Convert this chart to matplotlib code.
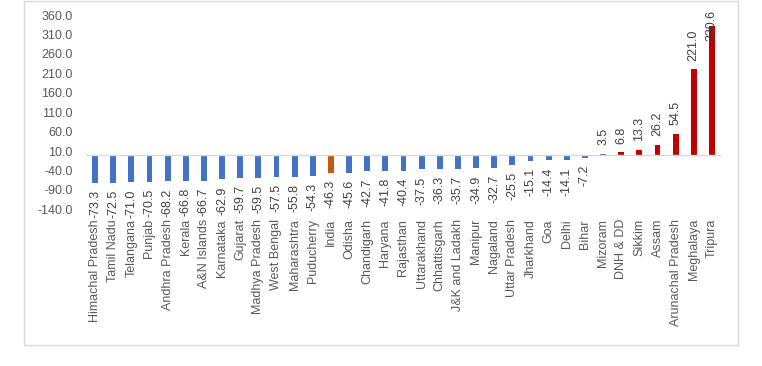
#!/usr/bin/env python3
# -*- coding: utf-8 -*-
"""Percent change by state/UT - Excel-style column chart with value labels."""
import numpy as np
import matplotlib
matplotlib.use("Agg")
import matplotlib.pyplot as plt
from matplotlib.patches import Rectangle

states = [
    "Himachal Pradesh", "Tamil Nadu", "Telangana", "Punjab", "Andhra Pradesh",
    "Kerala", "A&N Islands", "Karnataka", "Gujarat", "Madhya Pradesh",
    "West Bengal", "Maharashtra", "Puducherry", "India", "Odisha",
    "Chandigarh", "Haryana", "Rajasthan", "Uttarakhand", "Chhattisgarh",
    "J&K and Ladakh", "Manipur", "Nagaland", "Uttar Pradesh", "Jharkhand",
    "Goa", "Delhi", "Bihar", "Mizoram", "DNH & DD",
    "Sikkim", "Assam", "Arunachal Pradesh", "Meghalaya", "Tripura",
]
change = [
    -73.3, -72.5, -71.0, -70.5, -68.2,
    -66.8, -66.7, -62.9, -59.7, -59.5,
    -57.5, -55.8, -54.3, -46.3, -45.6,
    -42.7, -41.8, -40.4, -37.5, -36.3,
    -35.7, -34.9, -32.7, -25.5, -15.1,
    -14.4, -14.1, -7.2, 3.5, 6.8,
    13.3, 26.2, 54.5, 221.0, 330.6,
]
national = "India"
red_group = ["DNH & DD", "Sikkim", "Assam", "Arunachal Pradesh", "Meghalaya", "Tripura"]
yticks = np.arange(-140, 361, 50)

BLUE, ORANGE, RED = "#4472C4", "#C55A11", "#C00000"
TXT = "#595959"

plt.rcParams["font.family"] = ["Liberation Sans", "DejaVu Sans"]
plt.rcParams["font.size"] = 9

fig = plt.figure(figsize=(7.62, 3.66), dpi=100)
# chart area border
fig.patches.append(Rectangle((24 / 762, 1 - 345 / 366), (738 - 24) / 762, (345 - 1) / 366,
                             transform=fig.transFigure, fill=False,
                             edgecolor="#D9D9D9", linewidth=1.0))
ax = fig.add_axes([86 / 762, 1 - 209.3 / 366, (721 - 86) / 762, (209.3 - 15) / 366])

x = np.arange(len(states))
colors = [ORANGE if s == national else (RED if s in red_group else BLUE) for s in states]
ax.bar(x, change, width=0.33, color=colors, zorder=2)

ax.set_xlim(-0.5, len(states) - 0.5)
ax.set_ylim(yticks[0], yticks[-1])
ax.set_yticks(yticks)
ax.set_yticklabels([f"{v:.1f}" for v in yticks], color=TXT)
ax.tick_params(axis="y", length=0, pad=9.5)
ax.set_xticks(x)
ax.set_xticklabels(states, rotation=90, va="top", ha="center", color=TXT)
ax.tick_params(axis="x", length=0, pad=7)
for sp in ax.spines.values():
    sp.set_visible(False)
ax.axhline(0, color="#D9D9D9", linewidth=1.0, zorder=3)

# value labels (outside end; clamp to top of plot)
for xi, v in zip(x, change):
    lab = f"{v:.1f}"
    if v >= 0:
        if v > 300:
            ax.annotate(lab, (xi, yticks[-1]), xytext=(0, 4), textcoords="offset points",
                        rotation=90, ha="center", va="top", color="#404040", zorder=4)
        else:
            ax.annotate(lab, (xi, v), xytext=(0, 6), textcoords="offset points",
                        rotation=90, ha="center", va="bottom", color="#404040")
    else:
        ax.annotate(lab, (xi, v), xytext=(0, -5), textcoords="offset points",
                    rotation=90, ha="center", va="top", color="#404040")

fig.savefig("out.png", dpi=100)
